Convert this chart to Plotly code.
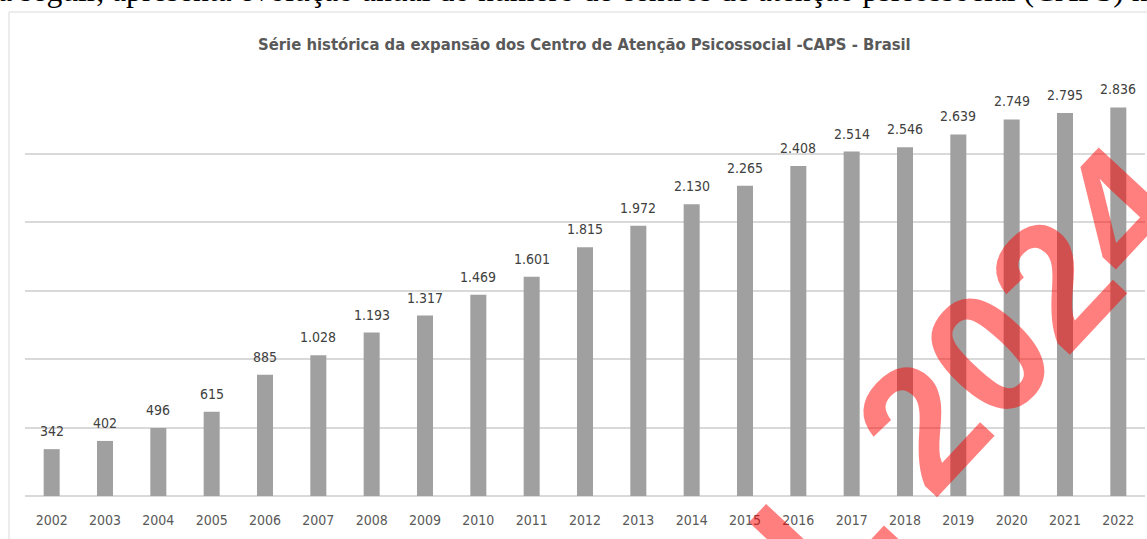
import plotly.graph_objects as go

years = [str(y) for y in range(2002, 2023)]
caps = [342, 402, 496, 615, 885, 1028, 1193, 1317, 1469, 1601, 1815,
        1972, 2130, 2265, 2408, 2514, 2546, 2639, 2749, 2795, 2836]
y_ticks = [0, 500, 1000, 1500, 2000, 2500, 3000]

title_text = "Série histórica da expansão dos Centro de Atenção Psicossocial -CAPS - Brasil"
intro_text = "a seguir, apresenta evolução anual do número de centros de atenção psicossocial (CAPS) no Brasil."
watermark = "L 2024"

W, H = 1147, 539
ML, MR, MT, MB = 25, 2, 85, 43
PW, PH = W - ML - MR, H - MT - MB


def px(x):
    return (x - ML) / PW


def py(y):
    return (H - MB - y) / PH


narrow = "Liberation Sans Narrow, DejaVu Sans Condensed, Arial Narrow, Liberation Sans, sans-serif"

fig = go.Figure()
fig.add_trace(go.Bar(
    x=years, y=caps, width=0.3,
    marker=dict(color="#a0a0a0", line=dict(width=0)),
    hoverinfo="x+y",
))

annotations = []
for i, v in enumerate(caps):
    annotations.append(dict(
        x=i, y=v, xref="x", yref="y", text=f"{v:,}".replace(",", "."),
        showarrow=False, yanchor="bottom", yshift=8,
        font=dict(family=narrow, size=14, color="#404040"),
    ))

annotations.append(dict(
    x=px(584), y=py(45), xref="paper", yref="paper", text=title_text,
    showarrow=False, xanchor="center", yanchor="middle",
    font=dict(family=narrow, size=16.5, color="#595959", weight="bold"),
))
annotations.append(dict(
    x=px(-4), y=py(10), xref="paper", yref="paper", text=intro_text,
    showarrow=False, xanchor="left", yanchor="bottom",
    font=dict(family="Liberation Serif, Times New Roman, serif", size=31.7, color="#000000"),
))
annotations.append(dict(
    x=px(970), y=py(374), xref="paper", yref="paper", text=watermark,
    showarrow=False, xanchor="center", yanchor="middle", textangle=-47,
    font=dict(family="Liberation Sans, Arial, sans-serif", size=175,
              color="rgba(255,0,0,0.5)", weight="bold"),
))

fig.update_layout(
    width=W, height=H,
    margin=dict(l=ML, r=MR, t=MT, b=MB, pad=0),
    paper_bgcolor="white", plot_bgcolor="white",
    showlegend=False,
    annotations=annotations,
    shapes=[dict(type="rect", xref="paper", yref="paper",
                 x0=px(9), x1=px(1200), y0=py(600), y1=py(12),
                 line=dict(color="#d9d9d9", width=1), layer="below")],
    xaxis=dict(
        type="category", range=[-0.5, len(years) - 0.5],
        showgrid=False, zeroline=False, showline=False,
        ticks="", ticklabelstandoff=14,
        tickfont=dict(family=narrow, size=14, color="#595959"),
        fixedrange=True,
    ),
    yaxis=dict(
        range=[0, 3000], tickvals=y_ticks, showticklabels=False,
        showgrid=True, gridcolor="#d9d9d9", gridwidth=1.5,
        zeroline=True, zerolinecolor="#d9d9d9", zerolinewidth=1.5,
        showline=False, ticks="", fixedrange=True,
    ),
)

fig.write_html(
    "out.html",
    config={"displayModeBar": False},
    post_script="document.body.style.margin='0';document.body.style.overflow='hidden';",
)
